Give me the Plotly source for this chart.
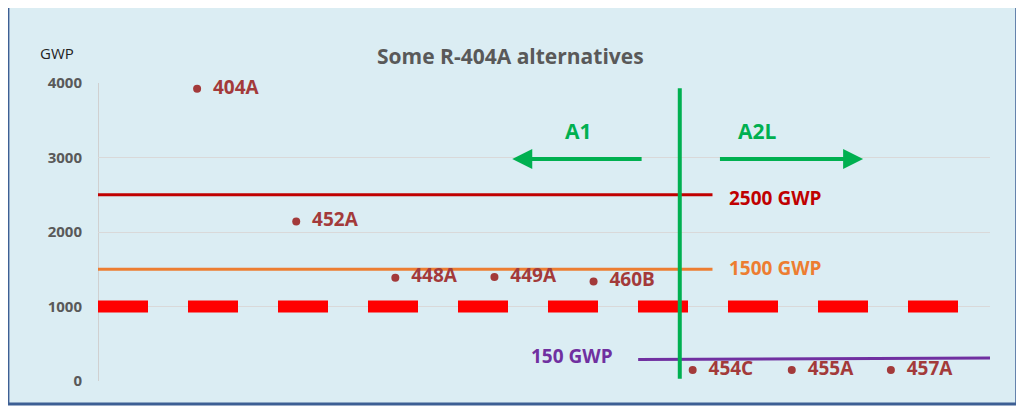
import plotly.graph_objects as go

names = ["404A", "452A", "448A", "449A", "460B", "454C", "455A", "457A"]
xpos = [1, 2, 3, 4, 5, 6, 7, 8]
gwp = [3922, 2141, 1387, 1397, 1337, 148, 146, 148]
limit_labels = ["2500 GWP", "1500 GWP", "150 GWP"]
yticks = [0, 1000, 2000, 3000, 4000]

fig = go.Figure()
fig.add_shape(type="rect", xref="paper", yref="paper", x0=-0.101, x1=1.030, y0=-0.077, y1=1.262,
              fillcolor="#dbedf3", line=dict(color="#3d5f94", width=3), layer="below")
fig.add_trace(go.Scatter(x=[0, 6.2], y=[2500, 2500], mode="lines", line=dict(color="#c00000", width=3), hoverinfo="skip"))
fig.add_trace(go.Scatter(x=[0, 6.2], y=[1500, 1500], mode="lines", line=dict(color="#ed7d31", width=3), hoverinfo="skip"))
fig.add_trace(go.Scatter(x=[5.45, 9.0], y=[290, 308], mode="lines", line=dict(color="#7030a0", width=3), hoverinfo="skip"))
fig.add_trace(go.Scatter(x=[0, 9.0], y=[1000, 1000], mode="lines", line=dict(color="#ff0000", width=12, dash="50px,40px"), hoverinfo="skip"))
fig.add_trace(go.Scatter(x=[5.87, 5.87], y=[30, 3930], mode="lines", line=dict(color="#00b050", width=4), hoverinfo="skip"))
fig.add_trace(go.Scatter(x=xpos, y=gwp, mode="markers+text", text=names, textposition="middle right",
                         marker=dict(color="#a33a3a", size=8), cliponaxis=False,
                         textfont=dict(color="#a33a3a", size=19, family="Open Sans", weight="bold"),
                         texttemplate="  %{text}", hoverinfo="skip"))
for x0, x1 in [(5.5, 4.18), (6.26, 7.72)]:
    fig.add_annotation(x=x1, y=2980, ax=x0, ay=2980, xref="x", yref="y", axref="x", ayref="y",
                       showarrow=True, arrowhead=2, arrowsize=1, arrowwidth=4, arrowcolor="#00b050", text="")
fig.add_annotation(x=4.85, y=3350, text="<b>A1</b>", showarrow=False, font=dict(color="#00b050", size=21, family="Open Sans"))
fig.add_annotation(x=6.65, y=3350, text="<b>A2L</b>", showarrow=False, font=dict(color="#00b050", size=21, family="Open Sans"))
lbl_font = dict(size=19, family="Open Sans")
fig.add_annotation(x=6.35, y=2450, text="<b>" + limit_labels[0] + "</b>", xanchor="left", showarrow=False, font=dict(color="#c00000", **lbl_font))
fig.add_annotation(x=6.35, y=1520, text="<b>" + limit_labels[1] + "</b>", xanchor="left", showarrow=False, font=dict(color="#ed7d31", **lbl_font))
fig.add_annotation(x=4.35, y=330, text="<b>" + limit_labels[2] + "</b>", xanchor="left", showarrow=False, font=dict(color="#7030a0", **lbl_font))
fig.add_annotation(xref="paper", yref="paper", x=0.463, y=1.145, text="<b>Some R-404A alternatives</b>", showarrow=False,
                   font=dict(color="#595959", size=21, family="Open Sans"))
fig.add_annotation(xref="paper", yref="paper", x=-0.025, y=1.14, text="GWP", showarrow=False, xanchor="right",
                   font=dict(color="#222", size=15, family="Open Sans"))

fig.update_layout(width=1024, height=410, margin=dict(l=90, r=42, t=75, b=37),
                  paper_bgcolor="white", plot_bgcolor="rgba(0,0,0,0)", showlegend=False)
fig.update_xaxes(range=[0, 9], visible=False)
fig.update_yaxes(range=[0, 4000], tickvals=yticks, showgrid=True, gridcolor="#d9d9d9", zeroline=False,
                 showline=False, tickfont=dict(color="#595959", size=15, family="Open Sans", weight="bold"),
                 ticks="outside", ticklen=12, tickcolor="rgba(0,0,0,0)")
fig.add_shape(type="line", xref="x", yref="y", x0=0, x1=0, y0=0, y1=4000, line=dict(color="#d0d0d0", width=2), layer="below")
fig.write_html("out.html")
